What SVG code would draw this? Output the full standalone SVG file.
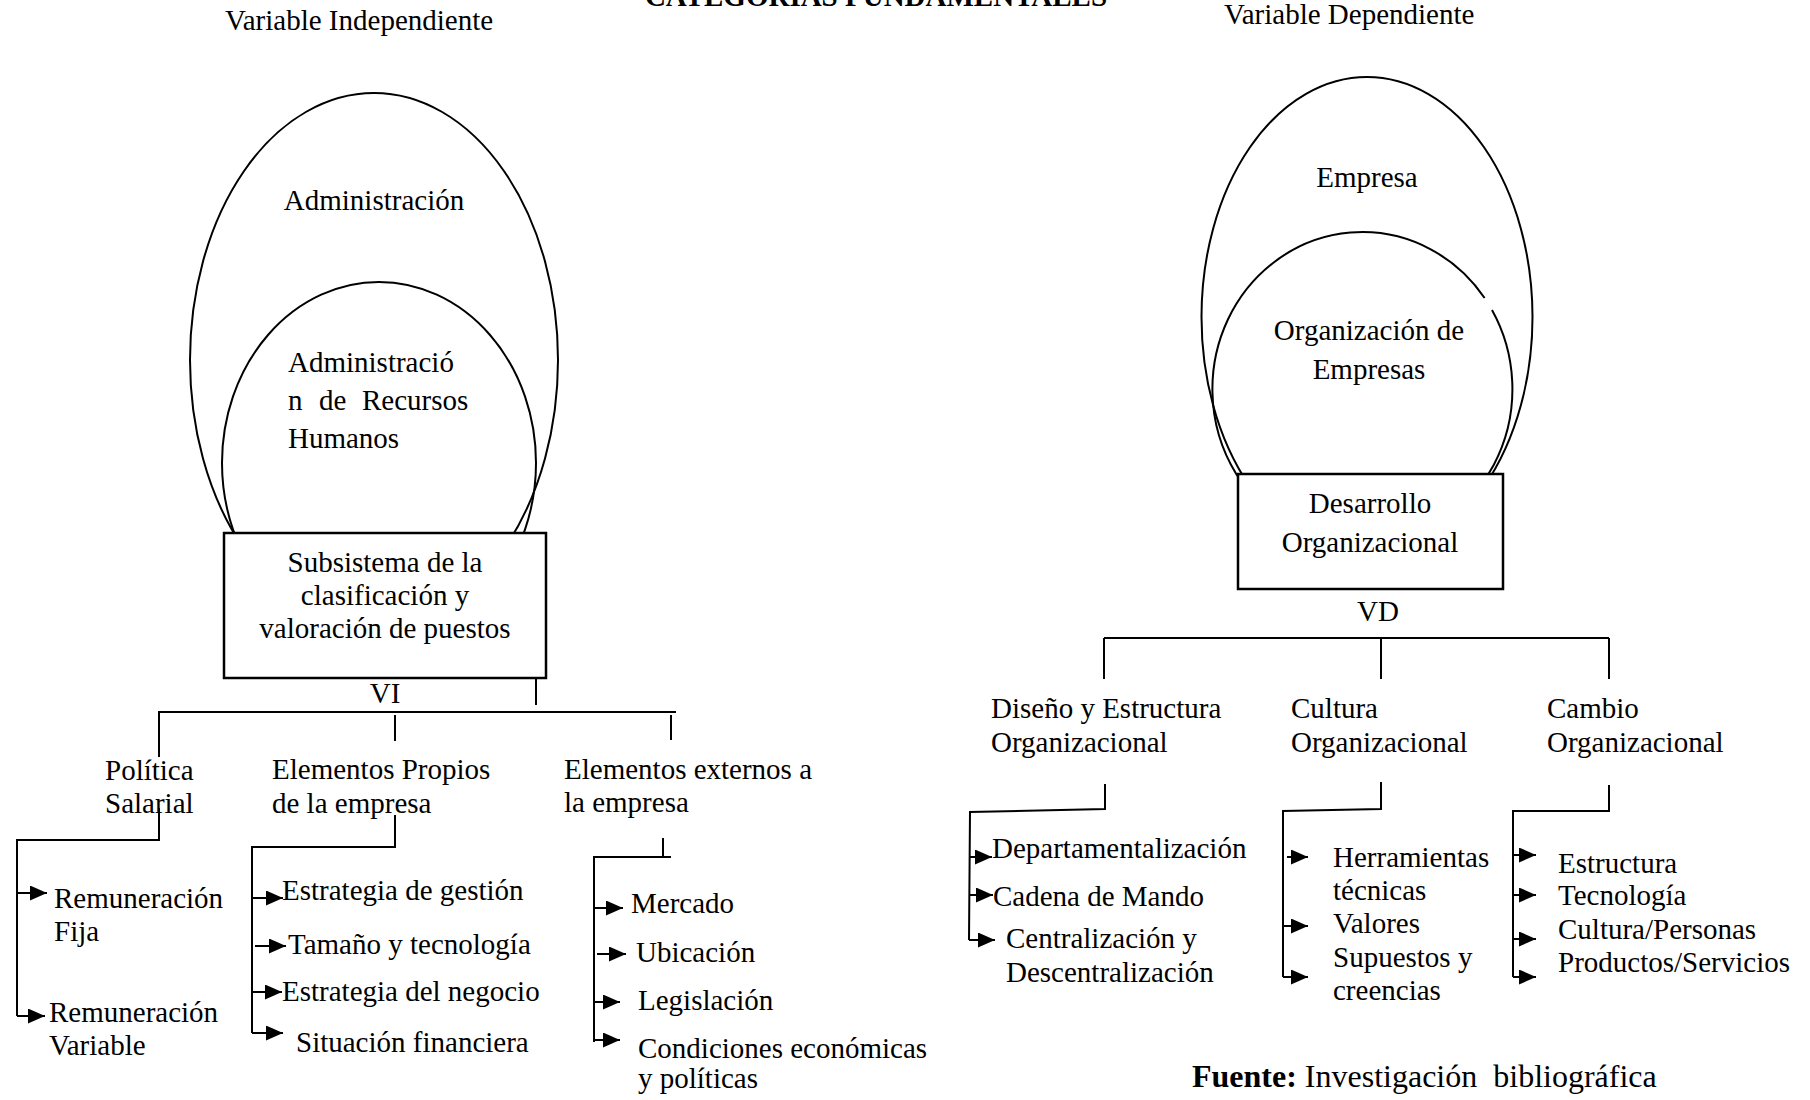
<svg xmlns="http://www.w3.org/2000/svg" width="1810" height="1100" viewBox="0 0 1810 1100">
<defs>
<style>
.t{font-family:"Liberation Serif","Times New Roman",serif;font-size:29px;fill:#000}
.m{text-anchor:middle}
.b{font-weight:bold}
.sh{fill:none;stroke:#000;stroke-width:2}
.box{fill:#fff;stroke:#000;stroke-width:2.5}
.ln{fill:none;stroke:#000;stroke-width:2}
.ar{fill:none;stroke:#000;stroke-width:2;marker-end:url(#ah)}
</style>
<marker id="ah" markerWidth="17" markerHeight="15" refX="17" refY="7.5" orient="auto" markerUnits="userSpaceOnUse">
<path d="M0,0 L17,7.5 L0,15 z" fill="#000"/>
</marker>
</defs>
<rect width="1810" height="1100" fill="#fff"/>

<g id="title"><text class="t b m" x="876" y="6">CATEGORÍAS FUNDAMENTALES</text></g>
<g id="var-ind"><text class="t" x="225" y="30">Variable Independiente</text></g>
<g id="var-dep"><text class="t" x="1224" y="24">Variable Dependiente</text></g>

<g id="administracion">
<ellipse class="sh" cx="374" cy="360" rx="184" ry="267"/>
<text class="t m" x="374" y="210">Administración</text>
</g>
<g id="arh">
<ellipse class="sh" cx="379" cy="463" rx="157" ry="181"/>
<text class="t" x="288" y="372">Administració</text>
<text class="t" y="410"><tspan x="288">n</tspan><tspan x="319">de</tspan><tspan x="362">Recursos</tspan></text>
<text class="t" x="288" y="448">Humanos</text>
</g>
<g id="subsistema">
<rect class="box" x="224" y="533" width="322" height="145"/>
<text class="t m" x="385" y="572">Subsistema de la</text>
<text class="t m" x="385" y="605">clasificación y</text>
<text class="t m" x="385" y="638">valoración de puestos</text>
</g>
<g id="vi"><text class="t m" x="385" y="703">VI</text></g>

<g id="empresa">
<ellipse class="sh" cx="1367" cy="317" rx="165.5" ry="240"/>
<text class="t m" x="1367" y="187">Empresa</text>
</g>
<g id="org-empresas">
<path class="sh" d="M1492,310 A150,157 0 1 1 1484.6,298"/>
<text class="t m" x="1369" y="340">Organización de</text>
<text class="t m" x="1369" y="379">Empresas</text>
</g>
<g id="desarrollo">
<rect class="box" x="1238" y="474" width="265" height="115"/>
<text class="t m" x="1370" y="513">Desarrollo</text>
<text class="t m" x="1370" y="552">Organizacional</text>
</g>
<g id="vd"><text class="t m" x="1378" y="621">VD</text></g>

<g id="politica"><text class="t" x="105" y="780">Política</text><text class="t" x="105" y="813">Salarial</text></g>
<g id="propios"><text class="t" x="272" y="779">Elementos Propios</text><text class="t" x="272" y="813">de la empresa</text></g>
<g id="externos"><text class="t" x="564" y="779">Elementos externos a</text><text class="t" x="564" y="812">la empresa</text></g>

<g id="rem-fija"><text class="t" x="54" y="908">Remuneración</text><text class="t" x="54" y="941">Fija</text></g>
<g id="rem-var"><text class="t" x="49" y="1022">Remuneración</text><text class="t" x="49" y="1055">Variable</text></g>

<g id="est-gestion"><text class="t" x="282" y="900">Estrategia de gestión</text></g>
<g id="tamano"><text class="t" x="288" y="954">Tamaño y tecnología</text></g>
<g id="est-negocio"><text class="t" x="282" y="1001">Estrategia del negocio</text></g>
<g id="situacion"><text class="t" x="296" y="1052">Situación financiera</text></g>

<g id="mercado"><text class="t" x="631" y="913">Mercado</text></g>
<g id="ubicacion"><text class="t" x="636" y="962">Ubicación</text></g>
<g id="legislacion"><text class="t" x="638" y="1010">Legislación</text></g>
<g id="condiciones"><text class="t" x="638" y="1058">Condiciones económicas</text><text class="t" x="638" y="1088">y políticas</text></g>

<g id="diseno"><text class="t" x="991" y="718">Diseño y Estructura</text><text class="t" x="991" y="752">Organizacional</text></g>
<g id="cultura"><text class="t" x="1291" y="718">Cultura</text><text class="t" x="1291" y="752">Organizacional</text></g>
<g id="cambio"><text class="t" x="1547" y="718">Cambio</text><text class="t" x="1547" y="752">Organizacional</text></g>

<g id="departamentalizacion"><text class="t" x="992" y="858">Departamentalización</text></g>
<g id="cadena"><text class="t" x="993" y="906">Cadena de Mando</text></g>
<g id="centralizacion"><text class="t" x="1006" y="948">Centralización y</text><text class="t" x="1006" y="982">Descentralización</text></g>

<g id="herramientas"><text class="t" x="1333" y="867">Herramientas</text><text class="t" x="1333" y="900">técnicas</text></g>
<g id="valores"><text class="t" x="1333" y="933">Valores</text></g>
<g id="supuestos"><text class="t" x="1333" y="967">Supuestos y</text><text class="t" x="1333" y="1000">creencias</text></g>

<g id="estructura"><text class="t" x="1558" y="873">Estructura</text></g>
<g id="tecnologia"><text class="t" x="1558" y="905">Tecnología</text></g>
<g id="cultura-personas"><text class="t" x="1558" y="939">Cultura/Personas</text></g>
<g id="productos"><text class="t" x="1558" y="972">Productos/Servicios</text></g>

<g id="fuente"><text class="t" x="1192" y="1087" style="font-size:32px"><tspan class="b">Fuente:</tspan> Investigación&#160; bibliográfica</text></g>

<g id="connectors">
<line class="ln" x1="536" y1="678" x2="536" y2="705"/>
<line class="ln" x1="158" y1="712" x2="676" y2="712"/>
<line class="ln" x1="395" y1="715" x2="395" y2="741"/>
<line class="ln" x1="671" y1="715" x2="671" y2="740"/>
<polyline class="ln" points="159,712 159,757"/>
<polyline class="ln" points="159,808 159,840 17,840 17,1016"/>
<line class="ar" x1="17" y1="893" x2="47" y2="893"/>
<line class="ar" x1="17" y1="1016" x2="45" y2="1016"/>

<polyline class="ln" points="395,815 395,847 252,847 252,1033"/>
<line class="ar" x1="252" y1="898" x2="283" y2="898"/>
<line class="ar" x1="255" y1="946" x2="286" y2="946"/>
<line class="ar" x1="252" y1="992" x2="282" y2="992"/>
<line class="ar" x1="252" y1="1033" x2="283" y2="1033"/>

<line class="ln" x1="663" y1="838" x2="663" y2="857"/>
<polyline class="ln" points="671,857 594,857 594,1042"/>
<line class="ar" x1="594" y1="908" x2="623" y2="908"/>
<line class="ar" x1="597" y1="954" x2="626" y2="954"/>
<line class="ar" x1="594" y1="1002" x2="620" y2="1002"/>
<line class="ar" x1="594" y1="1040" x2="620" y2="1040"/>

<line class="ln" x1="1104" y1="638" x2="1609" y2="638"/>
<line class="ln" x1="1104" y1="638" x2="1104" y2="679"/>
<line class="ln" x1="1381" y1="638" x2="1381" y2="679"/>
<line class="ln" x1="1609" y1="638" x2="1609" y2="679"/>

<polyline class="ln" points="1105,784 1105,809 970,812 969,940"/>
<line class="ar" x1="970" y1="857" x2="992" y2="857"/>
<line class="ar" x1="969" y1="895" x2="993" y2="895"/>
<line class="ar" x1="969" y1="940" x2="995" y2="940"/>

<polyline class="ln" points="1381,782 1381,809 1283,811 1283,977"/>
<line class="ar" x1="1287" y1="857" x2="1308" y2="857"/>
<line class="ar" x1="1283" y1="926" x2="1308" y2="926"/>
<line class="ar" x1="1283" y1="977" x2="1308" y2="977"/>

<polyline class="ln" points="1609,785 1609,811 1513,811 1513,977"/>
<line class="ar" x1="1513" y1="855" x2="1536" y2="855"/>
<line class="ar" x1="1513" y1="895" x2="1536" y2="895"/>
<line class="ar" x1="1513" y1="939" x2="1536" y2="939"/>
<line class="ar" x1="1513" y1="977" x2="1536" y2="977"/>
</g>
</svg>
